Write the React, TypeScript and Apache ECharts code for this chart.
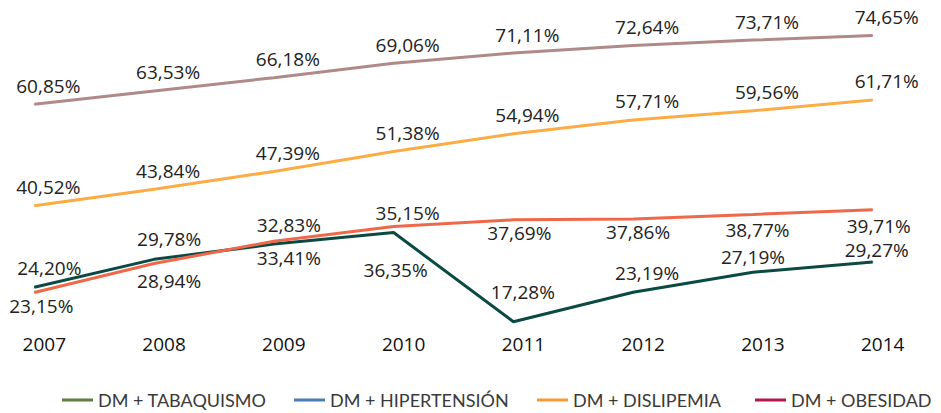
import React, { useEffect, useRef } from "react";
import * as echarts from "echarts";

const years = ["2007", "2008", "2009", "2010", "2011", "2012", "2013", "2014"];
const hipertension = [60.85, 63.53, 66.18, 69.06, 71.11, 72.64, 73.71, 74.65];
const dislipemia = [40.52, 43.84, 47.39, 51.38, 54.94, 57.71, 59.56, 61.71];
const obesidad = [23.15, 28.94, 33.41, 36.35, 37.69, 37.86, 38.77, 39.71];
const tabaquismo = [24.2, 29.78, 32.83, 35.15, 17.28, 23.19, 27.19, 29.27];

const seriesNames = ["DM + TABAQUISMO", "DM + HIPERTENSIÓN", "DM + DISLIPEMIA", "DM + OBESIDAD"];
const legendColors = ["#5f7b3f", "#4a7db5", "#f59a36", "#b3174c"];
const legendLefts = [62, 294, 537, 755];

// label nudges (layout only), [dx, dy] from the point
const tabaquismoLabelNudge = [[15, -19], [15, -20], [15, -19], [14, -19.5], [9.5, -30], [14, -19], [0, -15.5], [4, -12]];
const obesidadLabelNudge = [[7, 13.5], [15, 17.5], [15, 17], [2, 43.5], [6, 13.5], [5, 13], [4.5, 15.5], [6, 16]];

const fmt = (v: number) => v.toFixed(2).replace(".", ",") + "%";

export default function App() {
  const ref = useRef<HTMLDivElement>(null);
  useEffect(() => {
    if (!ref.current) return;
    const chart = echarts.init(ref.current, undefined, { renderer: "svg" });
    const labelBase = {
      show: true,
      position: "inside" as const,
      fontFamily: "Open Sans",
      fontSize: 19,
      color: "#222222",
      formatter: (p: any) => fmt(p.value),
    };
    const mkData = (vals: number[], nudge?: number[][]) =>
      vals.map((v, i) => ({
        value: v,
        label: { offset: nudge ? nudge[i] : [14, -18.5] },
      }));
    const mkSeries = (name: string, vals: number[], color: string, nudge?: number[][]) => ({
      type: "line",
      name,
      data: mkData(vals, nudge),
      symbol: "circle",
      symbolSize: 1,
      color,
      itemStyle: { color },
      lineStyle: { color, width: 3 },
      label: labelBase,
      z: 2,
    });
    chart.setOption({
      animation: false,
      grid: { left: 34.3, right: 68.3, top: 8.7, bottom: 79.9, containLabel: false },
      xAxis: {
        type: "category",
        data: years,
        boundaryGap: false,
        axisLine: { show: false },
        axisTick: { show: false },
        splitLine: { show: false },
        axisLabel: {
          fontFamily: "Open Sans",
          fontSize: 19,
          color: "#111111",
          margin: 1,
          padding: [0, 0, 0, 20],
        },
      },
      yAxis: { type: "value", min: 15, max: 80, show: false, splitLine: { show: false } },
      legend: seriesNames.map((n, i) => ({
        data: [{ name: n, itemStyle: { color: legendColors[i] } }],
        left: legendLefts[i],
        top: 391,
        icon: "rect",
        itemWidth: 31,
        itemHeight: 3,
        itemGap: 0,
        padding: 0,
        itemStyle: { color: legendColors[i] },
        selectedMode: false,
        textStyle: { fontFamily: "Lato", fontSize: 18, color: "#3a3a3a" },
      })),
      series: [
        mkSeries(seriesNames[0], tabaquismo, "#0b4a42", tabaquismoLabelNudge),
        mkSeries(seriesNames[1], hipertension, "#b08a88"),
        mkSeries(seriesNames[2], dislipemia, "#fbac45"),
        mkSeries(seriesNames[3], obesidad, "#f0684a", obesidadLabelNudge),
      ],
    });
    return () => chart.dispose();
  }, []);
  return (
    <div
      ref={ref}
      style={{ position: "absolute", left: 0, top: 0, width: 941, height: 413, background: "#fff" }}
    />
  );
}
